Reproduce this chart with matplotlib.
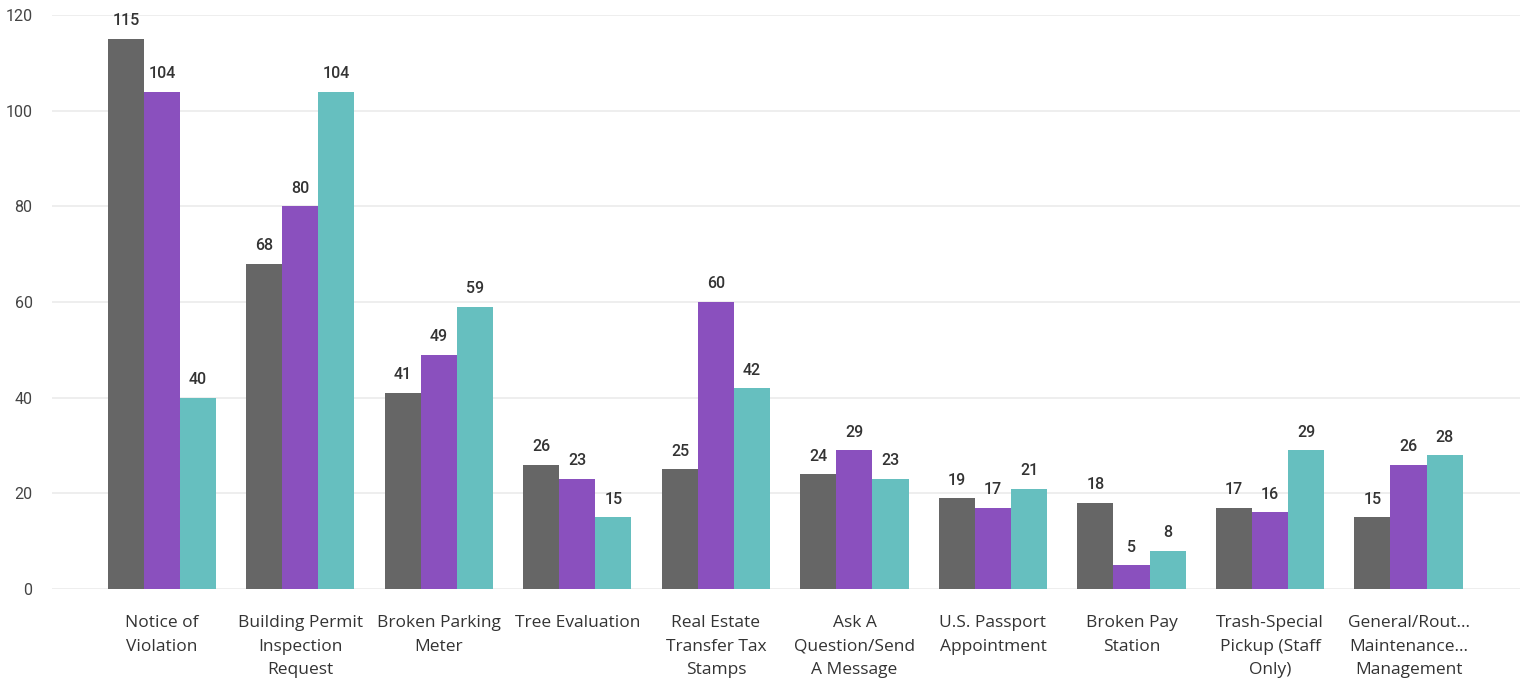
import matplotlib.pyplot as plt
import numpy as np

# Category labels (wrapped as in the source chart)
categories = [
    "Notice of\nViolation",
    "Building Permit\nInspection\nRequest",
    "Broken Parking\nMeter",
    "Tree Evaluation",
    "Real Estate\nTransfer Tax\nStamps",
    "Ask A\nQuestion/Send\nA Message",
    "U.S. Passport\nAppointment",
    "Broken Pay\nStation",
    "Trash-Special\nPickup (Staff\nOnly)",
    "General/Rout...\nMaintenance...\nManagement",
]

series_a = [115, 68, 41, 26, 25, 24, 19, 18, 17, 15]
series_b = [104, 80, 49, 23, 60, 29, 17, 5, 16, 26]
series_c = [40, 104, 59, 15, 42, 23, 21, 8, 29, 28]

colors = ['#666666', '#8a50be', '#66bfbf']
y_ticks = [0, 20, 40, 60, 80, 100, 120]

fig = plt.figure(figsize=(15.3, 6.83), dpi=100)
ax = fig.add_axes([52 / 1530, 1 - 589 / 683, (1520 - 52) / 1530, (589 - 15) / 683])

x = np.arange(len(categories))
w = 0.26
for k, (vals, col) in enumerate(zip([series_a, series_b, series_c], colors)):
    bars = ax.bar(x + (k - 1) * w, vals, width=w, color=col, zorder=3)
    for b, v in zip(bars, vals):
        ax.text(b.get_x() + b.get_width() / 2, v + 2.2, str(v),
                ha='center', va='bottom', fontsize=11.5, color='#333333',
                family='Roboto', fontweight='medium', clip_on=False)

ax.set_xlim(-0.794, 9.805)
ax.set_ylim(0, 120)
ax.set_yticks(y_ticks)
ax.set_yticklabels([str(t) for t in y_ticks], fontsize=11.5, color='#444444', family='Roboto')
ax.set_xticks(x)
ax.set_xticklabels(categories, fontsize=12.5, color='#333333', family='Open Sans',
                   va='top', linespacing=1.62)
ax.tick_params(axis='both', length=0)
ax.tick_params(axis='x', pad=19)
ax.tick_params(axis='y', pad=14)
ax.grid(axis='y', color='#ebebeb', linewidth=1.2, zorder=0)
for s in ax.spines.values():
    s.set_visible(False)

fig.savefig('out.png', dpi=100)
